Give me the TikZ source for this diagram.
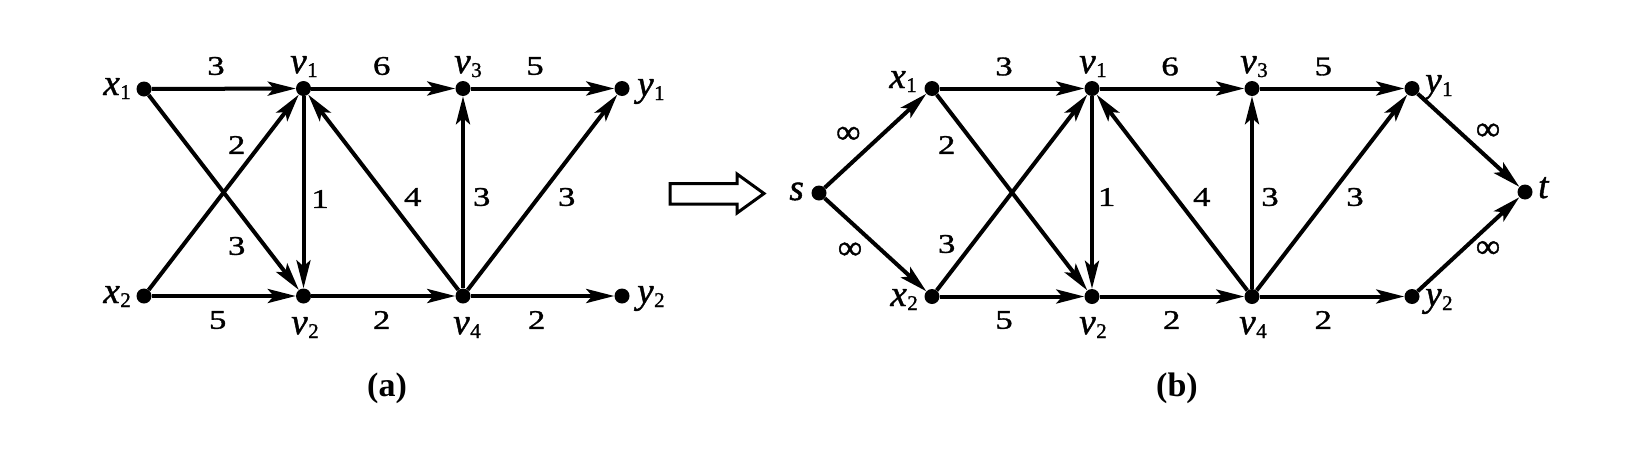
\documentclass[tikz,border=0pt]{standalone}
\usepackage{fontspec}
\setmainfont{Liberation Serif}
\newfontfamily\labfont{Liberation Serif}[FakeBold=1.2]
\usetikzlibrary{arrows.meta}
\newcommand{\vlab}[2]{{\labfont\fontsize{37}{37}\selectfont\itshape #1}\kern0.5pt\raisebox{-4pt}{\labfont\fontsize{21}{21}\selectfont #2}}
\newcommand{\ilab}[1]{{\labfont\fontsize{37}{37}\selectfont\itshape #1}}
\newcommand{\wn}[1]{\scalebox{1.28}[1]{#1}}
\begin{document}
\begin{tikzpicture}[x=1pt,y=-1pt,
  dot/.style={circle,fill=black,inner sep=0pt,minimum size=15pt},
  edge/.style={line width=4pt,-{Stealth[length=28pt,width=14pt,inset=6pt]}},
  wt/.style={inner sep=0pt,font=\labfont\fontsize{27}{27}\selectfont},
  inf/.style={inner sep=0pt,font=\labfont\fontsize{34}{34}\selectfont},
  nm/.style={inner sep=0pt},
  sub/.style={inner sep=0pt,font=\fontsize{34}{34}\selectfont\bfseries}]
\useasboundingbox (0,0) rectangle (1643,453);
\fill[white] (0,0) rectangle (1643,453);

% ---------- panel (a) ----------
\node[dot] (ax1) at (144,89) {};
\node[dot] (av1) at (303.5,88.5) {};
\node[dot] (av3) at (463,88.5) {};
\node[dot] (ay1) at (622,88.5) {};
\node[dot] (ax2) at (144,296) {};
\node[dot] (av2) at (303.5,296) {};
\node[dot] (av4) at (463,296) {};
\node[dot] (ay2) at (622,296) {};

\draw[edge] (ax1) -- (av1);
\draw[edge] (ax1) -- (av2);
\draw[edge] (ax2) -- (av1);
\draw[edge] (ax2) -- (av2);
\draw[edge] (av1) -- (av2);
\draw[edge] (av1) -- (av3);
\draw[edge] (av2) -- (av4);
\draw[edge] (av4) -- (av1);
\draw[edge] (av4) -- (av3);
\draw[edge] (av3) -- (ay1);
\draw[edge] (av4) -- (ay1);
\draw[edge] (av4) -- (ay2);

\node[nm,anchor=base east] (lax1) at (131,95) {\vlab{x}{1}};
\node[nm,anchor=base east] (lax2) at (131,303) {\vlab{x}{2}};
\node[nm,anchor=base] (lav1) at (304,73) {\vlab{v}{1}};
\node[nm,anchor=base] (lav3) at (468,73) {\vlab{v}{3}};
\node[nm,anchor=base] (lav2) at (305,334) {\vlab{v}{2}};
\node[nm,anchor=base] (lav4) at (467,334) {\vlab{v}{4}};
\node[nm,anchor=base west] (lay1) at (637,96) {\vlab{y}{1}};
\node[nm,anchor=base west] (lay2) at (637,303) {\vlab{y}{2}};

\node[wt] (wa1) at (216,66) {\wn{3}};
\node[wt] (wa2) at (381.7,66) {\wn{6}};
\node[wt] (wa3) at (535,66) {\wn{5}};
\node[wt] (wa4) at (236.7,145) {\wn{2}};
\node[wt] (wa5) at (236.7,246) {\wn{3}};
\node[wt] (wa6) at (320,199) {\wn{1}};
\node[wt] (wa7) at (412.7,197) {\wn{4}};
\node[wt] (wa8) at (481.7,197) {\wn{3}};
\node[wt] (wa9) at (566.7,197) {\wn{3}};
\node[wt] (wa10) at (217.7,320) {\wn{5}};
\node[wt] (wa11) at (381.7,320) {\wn{2}};
\node[wt] (wa12) at (536.7,320) {\wn{2}};

\node[sub] (capa) at (387,388) {(a)};

% ---------- hollow arrow ----------
\draw[line width=3pt,line join=miter] (670,183.5) -- (737,183.5) -- (737,174) -- (764,193.5) -- (737,213) -- (737,204) -- (670,204) -- cycle;

% ---------- panel (b) ----------
\node[dot] (bs) at (819,193) {};
\node[dot] (bx1) at (932,88.5) {};
\node[dot] (bv1) at (1092,88.5) {};
\node[dot] (bv3) at (1252,88.5) {};
\node[dot] (by1) at (1412,88.5) {};
\node[dot] (bx2) at (932,296.5) {};
\node[dot] (bv2) at (1092,296.5) {};
\node[dot] (bv4) at (1252,296.5) {};
\node[dot] (by2) at (1412,296.5) {};
\node[dot] (bt) at (1525,192) {};

\draw[edge] (bs) -- (bx1);
\draw[edge] (bs) -- (bx2);
\draw[edge] (bx1) -- (bv1);
\draw[edge] (bx1) -- (bv2);
\draw[edge] (bx2) -- (bv1);
\draw[edge] (bx2) -- (bv2);
\draw[edge] (bv1) -- (bv2);
\draw[edge] (bv1) -- (bv3);
\draw[edge] (bv2) -- (bv4);
\draw[edge] (bv4) -- (bv1);
\draw[edge] (bv4) -- (bv3);
\draw[edge] (bv3) -- (by1);
\draw[edge] (bv4) -- (by1);
\draw[edge] (bv4) -- (by2);
\draw[edge] (by1) -- (bt);
\draw[edge] (by2) -- (bt);

\node[nm,anchor=base east] (lbs) at (804,200) {\ilab{s}};
\node[nm,anchor=base west] (lbt) at (1538,198) {\ilab{t}};
\node[nm,anchor=base east] (lbx1) at (917,88) {\vlab{x}{1}};
\node[nm,anchor=base east] (lbx2) at (918,306) {\vlab{x}{2}};
\node[nm,anchor=base] (lbv1) at (1093,73) {\vlab{v}{1}};
\node[nm,anchor=base] (lbv3) at (1254,73) {\vlab{v}{3}};
\node[nm,anchor=base] (lbv2) at (1093,334) {\vlab{v}{2}};
\node[nm,anchor=base] (lbv4) at (1253,334) {\vlab{v}{4}};
\node[nm,anchor=base west] (lby1) at (1425,92) {\vlab{y}{1}};
\node[nm,anchor=base west] (lby2) at (1425,306) {\vlab{y}{2}};

\node[inf] (wb1) at (848.3,135) {∞};
\node[inf] (wb2) at (850,250.7) {∞};
\node[inf] (wb3) at (1488,131.7) {∞};
\node[inf] (wb4) at (1488,249.3) {∞};
\node[wt] (wb5) at (946.7,145) {\wn{2}};
\node[wt] (wb6) at (946.7,244) {\wn{3}};
\node[wt] (wb7) at (1004,66.5) {\wn{3}};
\node[wt] (wb8) at (1004,320) {\wn{5}};
\node[wt] (wb9) at (1106.7,197) {\wn{1}};
\node[wt] (wb10) at (1170,66.5) {\wn{6}};
\node[wt] (wb11) at (1201.7,197) {\wn{4}};
\node[wt] (wb12) at (1270,197) {\wn{3}};
\node[wt] (wb13) at (1355,197) {\wn{3}};
\node[wt] (wb14) at (1323.3,66.5) {\wn{5}};
\node[wt] (wb15) at (1171.7,320) {\wn{2}};
\node[wt] (wb16) at (1323.3,320) {\wn{2}};

\node[sub] (capb) at (1177,388) {(b)};
\end{tikzpicture}
\end{document}
